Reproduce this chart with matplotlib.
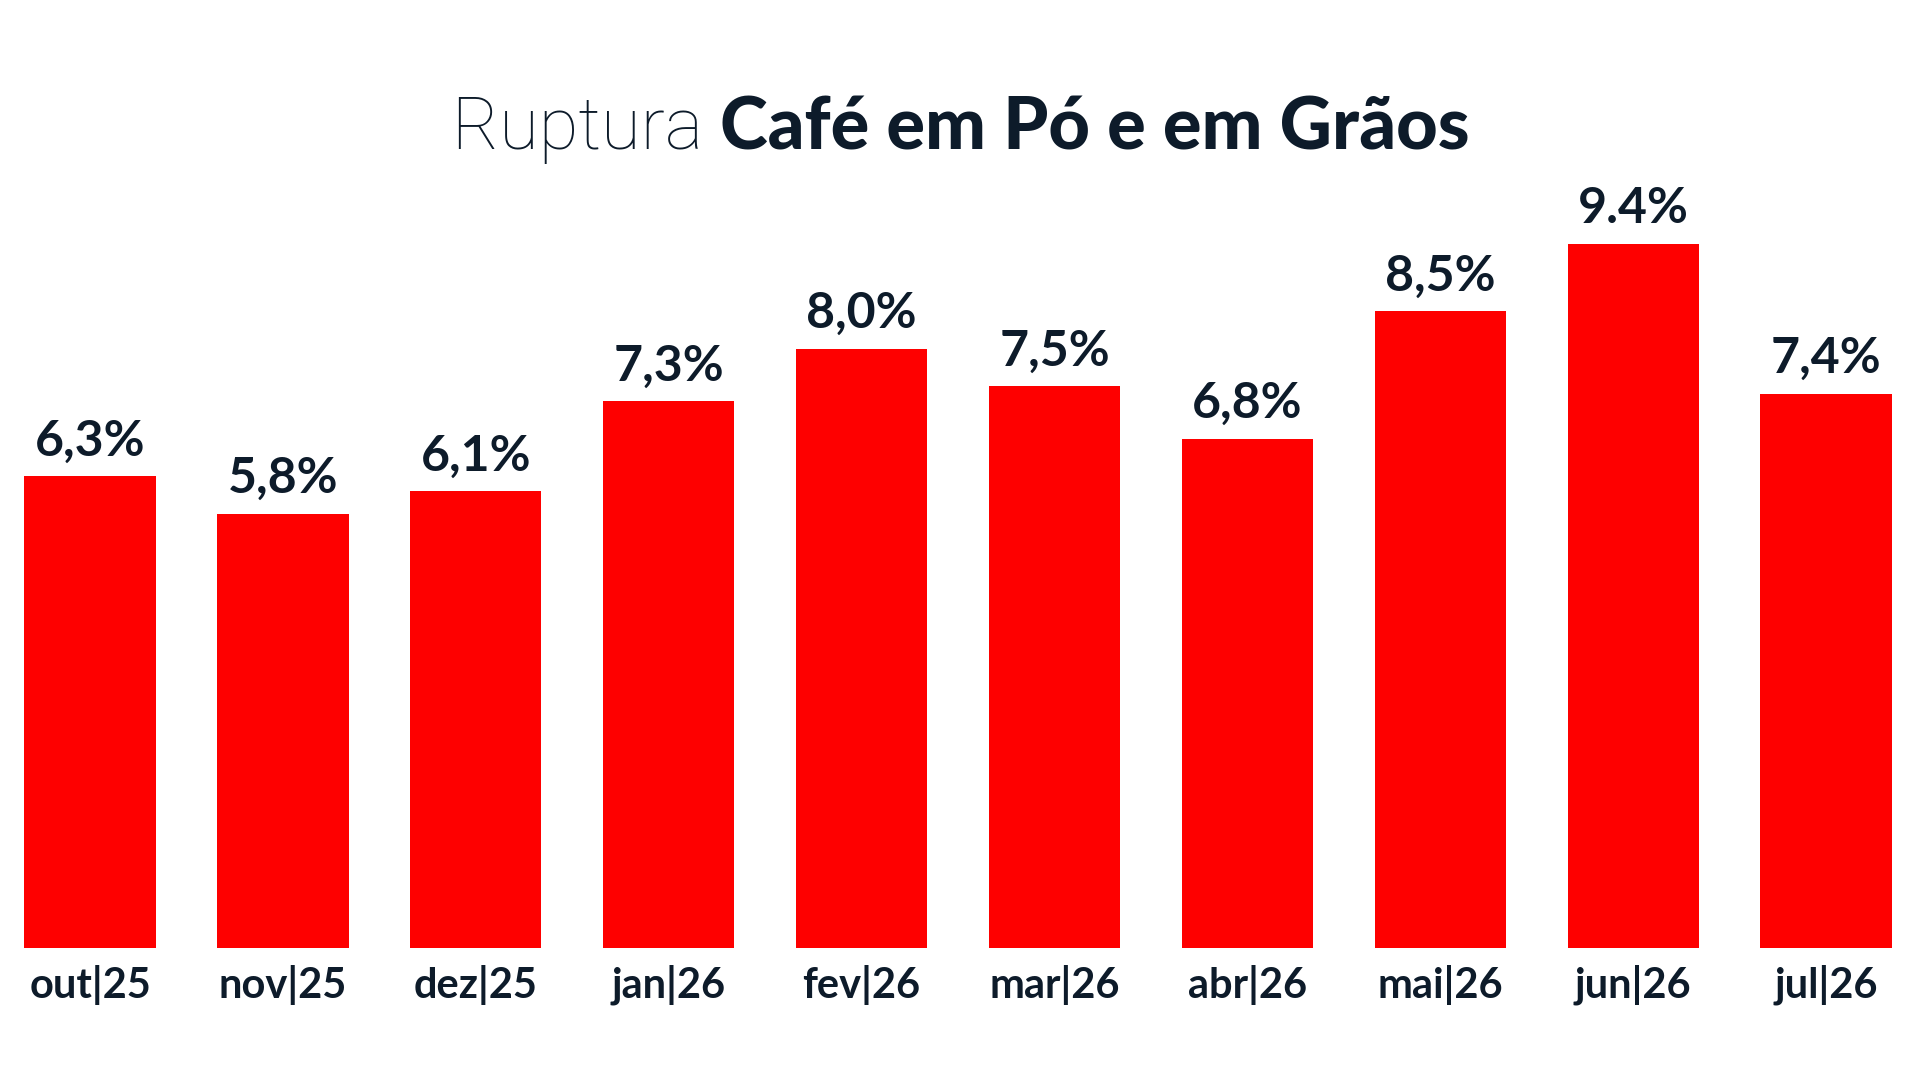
import matplotlib
matplotlib.use("Agg")
import matplotlib.pyplot as plt

# dados
meses = ["out|25", "nov|25", "dez|25", "jan|26", "fev|26",
         "mar|26", "abr|26", "mai|26", "jun|26", "jul|26"]
ruptura = [6.3, 5.8, 6.1, 7.3, 8.0, 7.5, 6.8, 8.5, 9.4, 7.4]
rotulos = ["6,3%", "5,8%", "6,1%", "7,3%", "8,0%",
           "7,5%", "6,8%", "8,5%", "9.4%", "7,4%"]

vermelho = "#fe0000"
escuro = "#0d1b2a"
fonte = ["Lato", "DejaVu Sans"]

fig = plt.figure(figsize=(19.2, 10.8), dpi=100)
fig.patch.set_facecolor("white")
ax = fig.add_axes([0, 0.1222, 1, 0.785])

x = list(range(len(meses)))
ax.bar(x, ruptura, width=0.68, color=vermelho)

for xi, v, r in zip(x, ruptura, rotulos):
    ax.annotate(r, (xi, v), xytext=(0, 15), textcoords="offset points",
                ha="center", va="baseline", fontsize=36, fontweight="bold",
                color=escuro, family=fonte)

ax.set_xlim(-0.467, 9.487)
ax.set_ylim(0, 11.32)
ax.set_xticks(x)
ax.set_xticklabels(meses, fontsize=30, fontweight="bold", color=escuro, family=fonte)
ax.tick_params(axis="x", length=0, pad=12)
ax.set_yticks([])
for s in ax.spines.values():
    s.set_visible(False)

# titulo em duas partes (leve + negrito)
fig.canvas.draw()
r = fig.canvas.get_renderer()
t1 = fig.text(0, 0.862, "Ruptura ", fontsize=52, fontweight="light",
              color=escuro, family=["Roboto", "DejaVu Sans"], va="baseline")
t2 = fig.text(0, 0.862, "Café em Pó e em Grãos", fontsize=52, fontweight="black",
              color=escuro, family=fonte, va="baseline")
w1 = t1.get_window_extent(r).width / fig.bbox.width
w2 = t2.get_window_extent(r).width / fig.bbox.width
x0 = 0.5005 - (w1 + w2) / 2
t1.set_x(x0)
t2.set_x(x0 + w1)

fig.savefig("out.png", dpi=100, facecolor="white")
